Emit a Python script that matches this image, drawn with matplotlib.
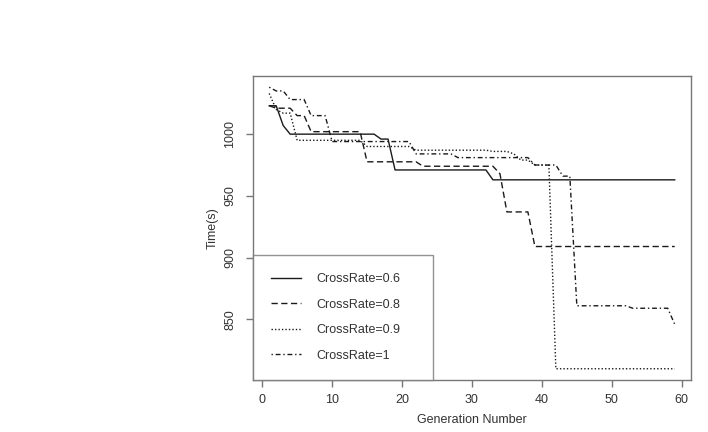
import matplotlib
matplotlib.use("Agg")
import matplotlib.pyplot as plt

# generation numbers and best time per crossover rate
generations = list(range(1, 60))

rate_06 = [1023, 1023, 1007, 1000, 1000, 1000, 1000, 1000, 1000, 1000,
           1000, 1000, 1000, 1000, 1000, 1000, 996, 996, 971, 971,
           971, 971, 971, 971, 971, 971, 971, 971, 971, 971,
           971, 971, 963, 963, 963, 963, 963, 963, 963, 963,
           963, 963, 963, 963, 963, 963, 963, 963, 963, 963,
           963, 963, 963, 963, 963, 963, 963, 963, 963]

rate_08 = [1023, 1021, 1021, 1021, 1015, 1015, 1002, 1002, 1002, 1002,
           1002, 1002, 1002, 1002, 977.6, 977.6, 977.6, 977.6, 977.6, 977.6,
           977.6, 977.6, 974, 974, 974, 974, 974, 974, 974, 974,
           974, 974, 974, 968, 937, 937, 937, 937, 909, 909,
           909, 909, 909, 909, 909, 909, 909, 909, 909, 909,
           909, 909, 909, 909, 909, 909, 909, 909, 909]

rate_09 = [1033, 1020, 1017, 1017, 995, 995, 995, 995, 995, 995,
           995, 995, 995, 995, 990, 990, 990, 990, 990, 990,
           990, 987, 987, 987, 987, 987, 987, 987, 987, 987,
           987, 987, 986, 986, 986, 984, 979, 979, 975, 975,
           975, 810, 810, 810, 810, 810, 810, 810, 810, 810,
           810, 810, 810, 810, 810, 810, 810, 810, 810]

rate_10 = [1038, 1035, 1035, 1028, 1028, 1028, 1015, 1015, 1015, 994,
           994, 994, 994, 994, 994, 994, 994, 994, 994, 994,
           994, 984, 984, 984, 984, 984, 984, 981, 981, 981,
           981, 981, 981, 981, 981, 981, 981, 981, 975, 975,
           975, 975, 966, 966, 861, 861, 861, 861, 861, 861,
           861, 861, 859, 859, 859, 859, 859, 859, 846]

labels = ["CrossRate=0.6", "CrossRate=0.8", "CrossRate=0.9", "CrossRate=1"]
xticks = [0, 10, 20, 30, 40, 50, 60]
yticks = [850, 900, 950, 1000]

plt.rcParams['font.family'] = ['Liberation Sans', 'DejaVu Sans']
plt.rcParams['font.size'] = 9

fig = plt.figure(figsize=(7.08, 4.32), dpi=100)
ax = fig.add_axes([0.3573, 0.1204, 0.6186, 0.7037])

line_col = '#1a1a1a'
frame_col = '#777777'
text_col = '#333333'

ax.plot(generations, rate_06, color=line_col, lw=1.0, linestyle='-', label=labels[0])
ax.plot(generations, rate_08, color=line_col, lw=1.0, linestyle=(0, (4.5, 2.5)), label=labels[1])
ax.plot(generations, rate_09, color=line_col, lw=1.0, linestyle=(0, (1, 1.5)), label=labels[2])
ax.plot(generations, rate_10, color=line_col, lw=1.0, linestyle=(0, (1, 2, 3.5, 2)), label=labels[3])

ax.set_xlim(-1.32, 61.32)
ax.set_ylim(800.9, 1047.1)
ax.set_xticks(xticks)
ax.set_yticks(yticks)
ax.set_yticklabels([str(v) for v in yticks], rotation=90, va='center')

for s in ax.spines.values():
    s.set_color(frame_col)
    s.set_linewidth(1.0)
ax.tick_params(colors=frame_col, labelcolor=text_col, length=5, width=1.0, pad=5)
ax.tick_params(axis='y', pad=7)

ax.set_xlabel("Generation Number", color=text_col, labelpad=6)
ax.set_ylabel("Time(s)", color=text_col, labelpad=4)

leg = ax.legend(loc='lower left', bbox_to_anchor=(0, 0, 0.412, 0.4), mode='expand',
                borderaxespad=0, fancybox=False, frameon=True,
                handlelength=2.4, handletextpad=1.2, labelspacing=1.08,
                borderpad=1.45)
leg.get_frame().set_edgecolor(frame_col)
leg.get_frame().set_linewidth(1.0)
for t in leg.get_texts():
    t.set_color(text_col)

fig.savefig("out.png", dpi=100)
